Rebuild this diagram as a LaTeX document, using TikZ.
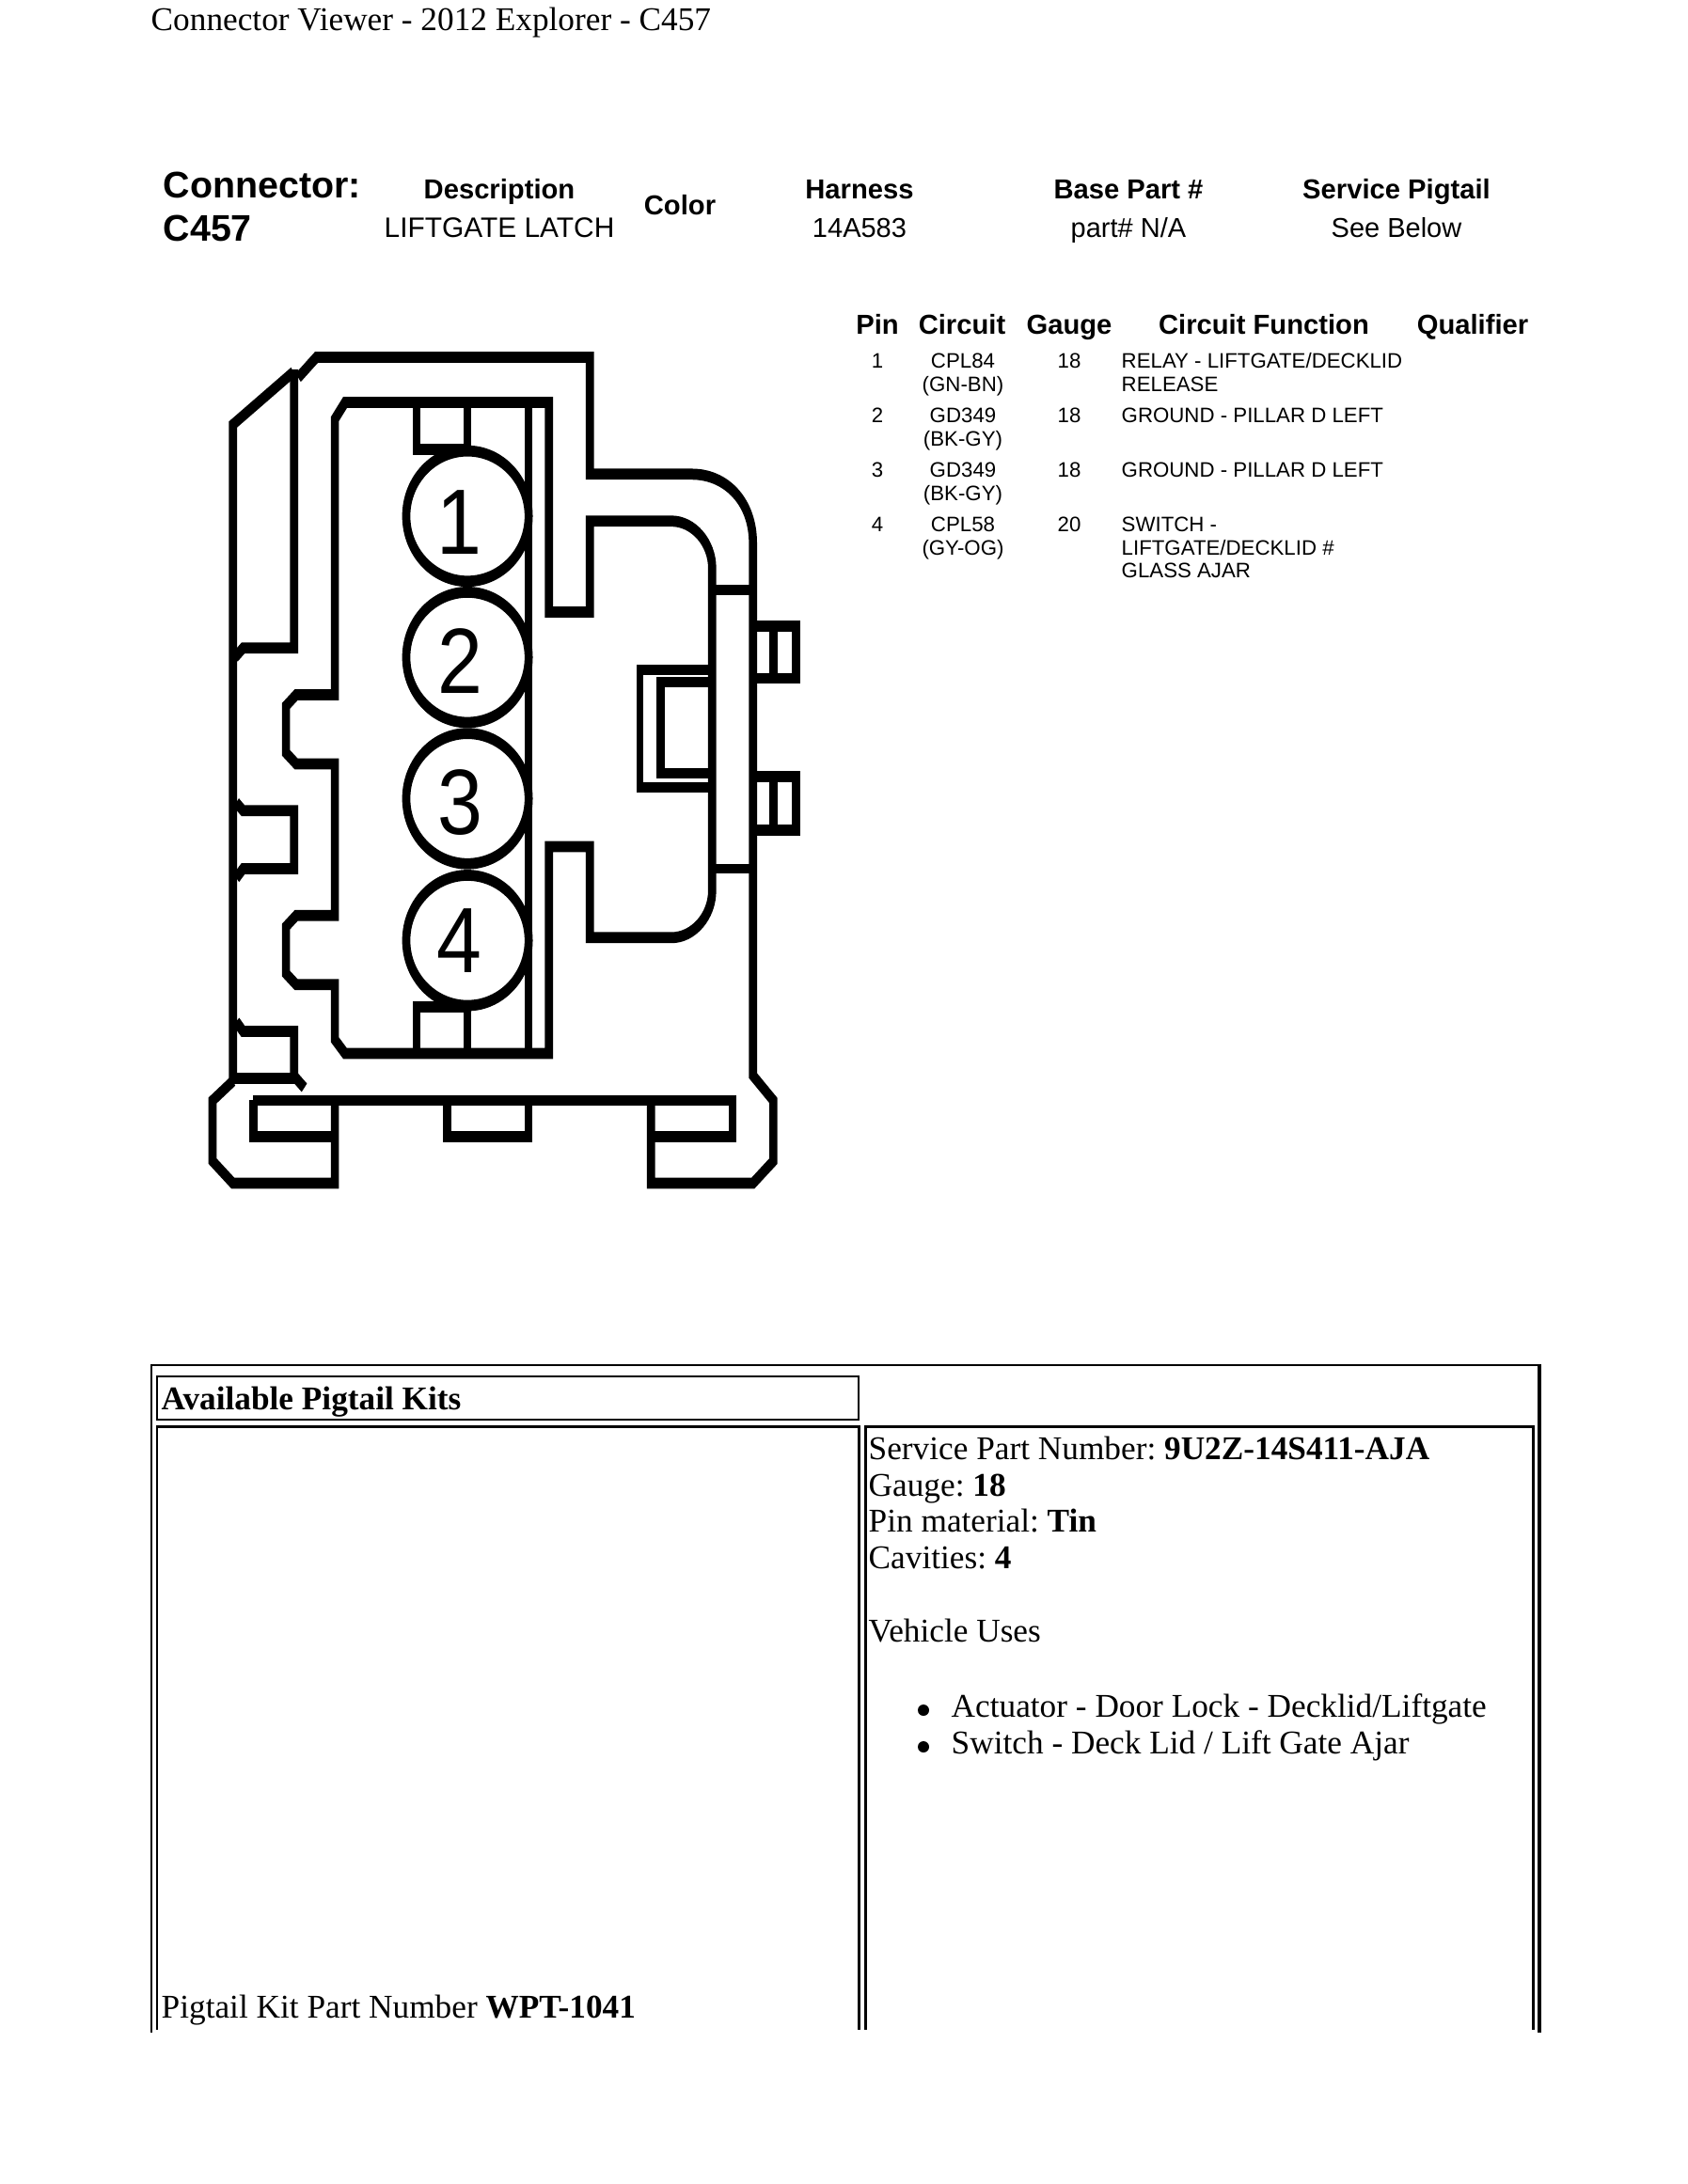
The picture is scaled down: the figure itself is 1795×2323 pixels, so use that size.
\documentclass[tikz,border=0pt]{standalone}
\usepackage{fontspec}
\setmainfont{Liberation Serif}
\setsansfont{Liberation Sans}
\newfontfamily\chiffrefont[FakeStretch=1.18]{Liberation Sans}
\usetikzlibrary{shapes.geometric}
\begin{document}
\begin{tikzpicture}[x=0.01cm,y=-0.01cm]
\tikzset{
  corps/.style={line width=0.2cm, miter limit=4},
  mince/.style={line width=0.18cm},
  pinoeud/.style={draw, line width=0.2cm, ellipse, inner sep=0pt, outer sep=0pt, minimum width=3cm, minimum height=2.36cm},
  chiffre/.style={anchor=base, inner sep=0pt, font=\chiffrefont\fontsize{47.8}{50}\selectfont},
  serif/.style={anchor=base west, inner sep=0pt, font=\frenchspacing\fontsize{10.03}{12}\selectfont},
  grand/.style={anchor=base west, inner sep=0pt, font=\sffamily\bfseries\fontsize{11.2}{13}\selectfont},
  tete/.style={anchor=base, inner sep=0pt, font=\sffamily\bfseries\fontsize{8.3}{10}\selectfont},
  info/.style={anchor=base, inner sep=0pt, font=\sffamily\fontsize{8.25}{10}\selectfont},
  petit/.style={anchor=base, inner sep=0pt, font=\sffamily\fontsize{6.33}{8}\selectfont},
  fonction/.style={petit, anchor=base west},
  bord/.style={line width=0.6pt},
  bordfort/.style={line width=0.85pt}
}
\useasboundingbox (0,0) rectangle (1795,2323);
\node[serif] (titre) at (160,32) {Connector Viewer - 2012 Explorer - C457};
% en-tete
\node[grand] (conn) at (173,210) {Connector:};
\node[grand] (c457) at (173,256) {C457};
\node[tete] (desc) at (531,211) {Description};
\node[info, font=\sffamily\fontsize{8.5}{10}\selectfont] (latch) at (531,252) {LIFTGATE LATCH};
\node[tete] (color) at (723,228) {Color};
\node[tete] (harn) at (914,211) {Harness};
\node[info] (harnv) at (914,252) {14A583};
\node[tete] (base) at (1200,211) {Base Part \#};
\node[info] (basev) at (1200,252) {part\# N/A};
\node[tete] (serv) at (1485,211) {Service Pigtail};
\node[info] (servv) at (1485,252) {See Below};
% broches
\node[tete] (hpin) at (933,355) {Pin};
\node[tete] (hcir) at (1023,355) {Circuit};
\node[tete] (hgau) at (1137,355) {Gauge};
\node[tete] (hfon) at (1344,355) {Circuit Function};
\node[tete] (hqua) at (1566,355) {Qualifier};
\node[petit] (p1) at (933,391) {1};
\node[petit] (c1) at (1024,391) {CPL84};
\node[petit] (k1) at (1024,416) {(GN-BN)};
\node[petit] (g1) at (1137,391) {18};
\node[fonction] (f1) at (1192,391) {RELAY - LIFTGATE/DECKLID};
\node[fonction] (e1) at (1192,416) {RELEASE};
\node[petit] (p2) at (933,449) {2};
\node[petit] (c2) at (1024,449) {GD349};
\node[petit] (k2) at (1024,474) {(BK-GY)};
\node[petit] (g2) at (1137,449) {18};
\node[fonction] (f2) at (1192,449) {GROUND - PILLAR D LEFT};
\node[petit] (p3) at (933,507) {3};
\node[petit] (c3) at (1024,507) {GD349};
\node[petit] (k3) at (1024,532) {(BK-GY)};
\node[petit] (g3) at (1137,507) {18};
\node[fonction] (f3) at (1192,507) {GROUND - PILLAR D LEFT};
\node[petit] (p4) at (933,565) {4};
\node[petit] (c4) at (1024,565) {CPL58};
\node[petit] (k4) at (1024,590) {(GY-OG)};
\node[petit] (g4) at (1137,565) {20};
\node[fonction] (f4) at (1192,565) {SWITCH -};
\node[fonction] (e4) at (1192,590) {LIFTGATE/DECKLID \#};
\node[fonction] (h4) at (1192,614) {GLASS AJAR};
% connecteur
\begin{scope}[transform canvas={shift={(200,340)},xscale=0.4337,yscale=0.5869}]
\draw[corps] (110,1380) -- (110,190) -- (258,95);
\draw[corps] (260,90) -- (260,595) -- (135,595) -- (115,612);
\draw[corps] (270,105) -- (315,68) -- (985,68) -- (985,280) -- (1235,280)
  .. controls (1320,280) and (1385,330) .. (1385,405) -- (1385,1370) -- (1435,1415)
  -- (1435,1525) -- (1385,1565) -- (1135,1565) -- (1135,1415);
\draw[corps] (160,1415) -- (1335,1415) -- (1335,1480) -- (1135,1480);
\draw[corps] (360,1415) -- (360,1565) -- (110,1565) -- (60,1525) -- (60,1415) -- (110,1380);
\draw[corps] (160,1415) -- (160,1480) -- (360,1480);
\draw[corps] (635,1415) -- (635,1480) -- (835,1480) -- (835,1415);
\draw[corps] (110,1375) -- (265,1375) -- (285,1392);
\draw[corps] (118,1272) -- (135,1290) -- (260,1290) -- (260,1385);
\draw[corps] (118,875) -- (135,890) -- (260,890) -- (260,995) -- (135,995) -- (118,1012);
% cavite
\draw[corps] (360,180) -- (385,150) -- (885,150) -- (885,530) -- (985,530) -- (985,365) -- (1185,365)
  .. controls (1240,365) and (1285,405) .. (1285,450) -- (1285,1035)
  .. controls (1285,1080) and (1240,1120) .. (1185,1120) -- (985,1120) -- (985,955) -- (885,955)
  -- (885,1330) -- (385,1330) -- (360,1305) -- (360,1205) -- (265,1205) -- (240,1185) -- (240,1100)
  -- (265,1080) -- (360,1080) -- (360,805) -- (265,805) -- (240,785) -- (240,700) -- (265,680)
  -- (360,680) -- cycle;
\draw[corps] (835,150) -- (835,1330);
\draw[corps] (560,150) -- (560,235) -- (680,235);
\draw[corps] (685,150) -- (685,235);
\draw[corps] (560,1330) -- (560,1245) -- (690,1245);
\draw[corps] (685,1245) -- (685,1330);
\draw[mince] (1285,490) -- (1385,490);
\draw[mince] (1285,995) -- (1385,995);
\draw[corps] (1385,555) -- (1490,555) -- (1490,650) -- (1385,650);
\draw[corps] (1435,555) -- (1435,650);
\draw[corps] (1385,828) -- (1490,828) -- (1490,925) -- (1385,925);
\draw[corps] (1435,828) -- (1435,925);
\draw[mince] (1280,635) -- (1108,635) -- (1108,848) -- (1280,848);
\draw[corps] (1280,657) -- (1158,657) -- (1158,822) -- (1280,822);
\node[pinoeud] (pin1) at (685,356) {};
\node[pinoeud] (pin2) at (685,612) {};
\node[pinoeud] (pin3) at (685,868) {};
\node[pinoeud] (pin4) at (685,1125) {};
\node[chiffre] (n1) at (665,425) {1};
\node[chiffre] (n2) at (668,678) {2};
\node[chiffre] (n3) at (668,932) {3};
\node[chiffre] (n4) at (665,1183) {4};
\end{scope}
% tableau
\draw[bord] (161,2162) -- (161,1452) -- (1637,1452);
\draw[line width=1.15pt] (1637,1451) -- (1637,2162);
\draw[bord] (167,1464) rectangle (913,1510);
\draw[bordfort] (167,2159) -- (167,1517) -- (913,1517) -- (913,2159);
\draw[bordfort] (920,2159) -- (920,1517) -- (1630,1517) -- (1630,2159);
\node[serif] (kits) at (171,1499) {\bfseries Available Pigtail Kits};
\node[serif] (wpt) at (171,2146) {Pigtail Kit Part Number \textbf{WPT-1041}};
\node[serif] (spn) at (923,1552) {Service Part Number: \textbf{9U2Z-14S411-AJA}};
\node[serif] (gau) at (923,1591) {Gauge: \textbf{18}};
\node[serif] (mat) at (923,1629) {Pin material: \textbf{Tin}};
\node[serif] (cav) at (923,1668) {Cavities: \textbf{4}};
\node[serif] (veh) at (923,1746) {Vehicle Uses};
\fill (982,1819) circle (6);
\fill (982,1858) circle (6);
\node[serif] (act) at (1011,1826) {Actuator - Door Lock - Decklid/Liftgate};
\node[serif] (swi) at (1011,1865) {Switch - Deck Lid / Lift Gate Ajar};
\end{tikzpicture}
\end{document}
